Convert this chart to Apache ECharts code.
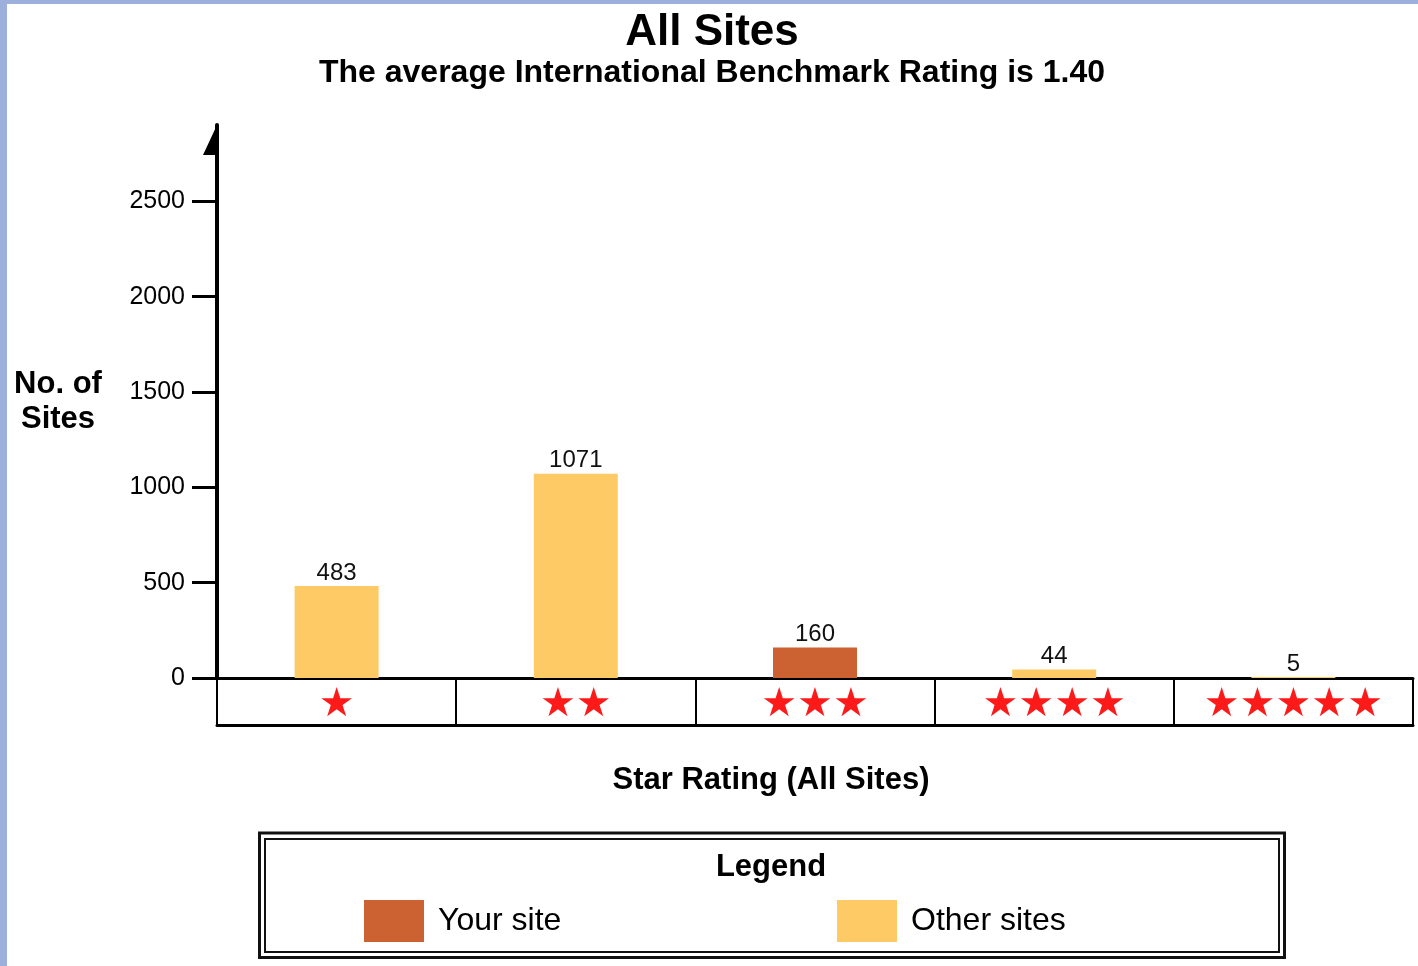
<!DOCTYPE html>
<html>
<head>
<meta charset="utf-8">
<script src="https://cdn.jsdelivr.net/npm/echarts@6/dist/echarts.min.js"></script>
<style>
  html, body { margin: 0; padding: 0; background: #9db0dc; }
  #main { position: absolute; left: 7px; top: 4px; width: 1411px; height: 962px; background: #fff; }
</style>
</head>
<body>
<div id="main"></div>
<script>
// data
var starCategories = ['★', '★★', '★★★', '★★★★', '★★★★★'];
var yourSite = [null, null, 160, null, null];
var otherSites = [483, 1071, null, 44, 5];
var yTicks = [0, 500, 1000, 1500, 2000, 2500];

var font = 'Liberation Sans, Arial, sans-serif';
var chart = echarts.init(document.getElementById('main'));

var option = {
    animation: false,
    textStyle: { fontFamily: font },
    title: [
        { text: 'All Sites', left: 705, top: 7, textAlign: 'center', padding: 0,
          textStyle: { fontSize: 44, fontWeight: 'bold', color: '#000', fontFamily: font } },
        { text: 'The average International Benchmark Rating is 1.40', left: 705, top: 53, textAlign: 'center', padding: 0,
          textStyle: { fontSize: 32, fontWeight: 'bold', color: '#000', fontFamily: font } },
        { text: 'Star Rating (All Sites)', left: 764, top: 761, textAlign: 'center', padding: 0,
          textStyle: { fontSize: 31, fontWeight: 'bold', color: '#000', fontFamily: font } },
        { text: 'Legend', left: 764, top: 848, textAlign: 'center', padding: 0,
          textStyle: { fontSize: 31, fontWeight: 'bold', color: '#000', fontFamily: font } }
    ],
    legend: [
        { data: ['Your site'], left: 357, top: 896, itemWidth: 60, itemHeight: 42, padding: 0,
          icon: 'rect', textStyle: { fontSize: 32, color: '#000', fontFamily: font, padding: [0, 0, 0, 9] } },
        { data: ['Other sites'], left: 830, top: 896, itemWidth: 60, itemHeight: 42, padding: 0,
          icon: 'rect', textStyle: { fontSize: 32, color: '#000', fontFamily: font, padding: [0, 0, 0, 9] } }
    ],
    grid: { left: 210, right: 5, top: 121, bottom: 288, containLabel: false },
    xAxis: [
        {
            type: 'category',
            data: starCategories,
            position: 'bottom',
            axisLine: { lineStyle: { color: '#000', width: 3 } },
            axisTick: { show: true, length: 47, lineStyle: { color: '#000', width: 2 } },
            axisLabel: { color: '#ff1a1a', fontSize: 40, fontFamily: 'DejaVu Sans', margin: 28, verticalAlign: 'middle' }
        },
        {
            type: 'category',
            data: starCategories,
            position: 'bottom',
            offset: 47,
            axisLine: { lineStyle: { color: '#000', width: 3 } },
            axisTick: { show: false },
            axisLabel: { show: false }
        }
    ],
    yAxis: {
        type: 'value',
        min: 0,
        max: 2900,
        interval: 500,
        name: 'No. of\nSites',
        nameLocation: 'middle',
        nameRotate: 0,
        nameGap: 159,
        nameTextStyle: { fontSize: 31, fontWeight: 'bold', color: '#000', align: 'center', verticalAlign: 'middle', lineHeight: 35, fontFamily: font },
        splitLine: { show: false },
        axisLine: {
            show: true,
            lineStyle: { color: '#000', width: 4 },
            symbol: ['none', 'path://M14,0 L14,30 L0,30 Z M28,30 L28,29.9 L28,30 Z'],
            symbolSize: [28, 30],
            symbolOffset: [0, -15]
        },
        axisTick: { show: true, length: 25, lineStyle: { color: '#000', width: 3 }, customValues: yTicks },
        axisLabel: {
            fontSize: 25, color: '#000', margin: 32, customValues: yTicks, fontFamily: font,
            formatter: function (v) { return String(v); }
        }
    },
    series: [
        {
            name: 'Your site',
            type: 'bar',
            stack: 'sites',
            barWidth: 84,
            data: yourSite,
            itemStyle: { color: '#cc6232' },
            label: { show: true, position: 'top', distance: 1, fontSize: 24, color: '#111', fontFamily: font }
        },
        {
            name: 'Other sites',
            type: 'bar',
            stack: 'sites',
            barWidth: 84,
            data: otherSites,
            itemStyle: { color: '#fdca66' },
            label: { show: true, position: 'top', distance: 1, fontSize: 24, color: '#111', fontFamily: font }
        }
    ],
    graphic: [
        { type: 'rect', shape: { x: 252.5, y: 829, width: 1025, height: 124.5 }, style: { fill: 'none', stroke: '#111', lineWidth: 3 }, z: 0 },
        { type: 'rect', shape: { x: 258, y: 835, width: 1014, height: 113 }, style: { fill: 'none', stroke: '#111', lineWidth: 2 }, z: 0 }
    ]
};

chart.setOption(option);
</script>
</body>
</html>
